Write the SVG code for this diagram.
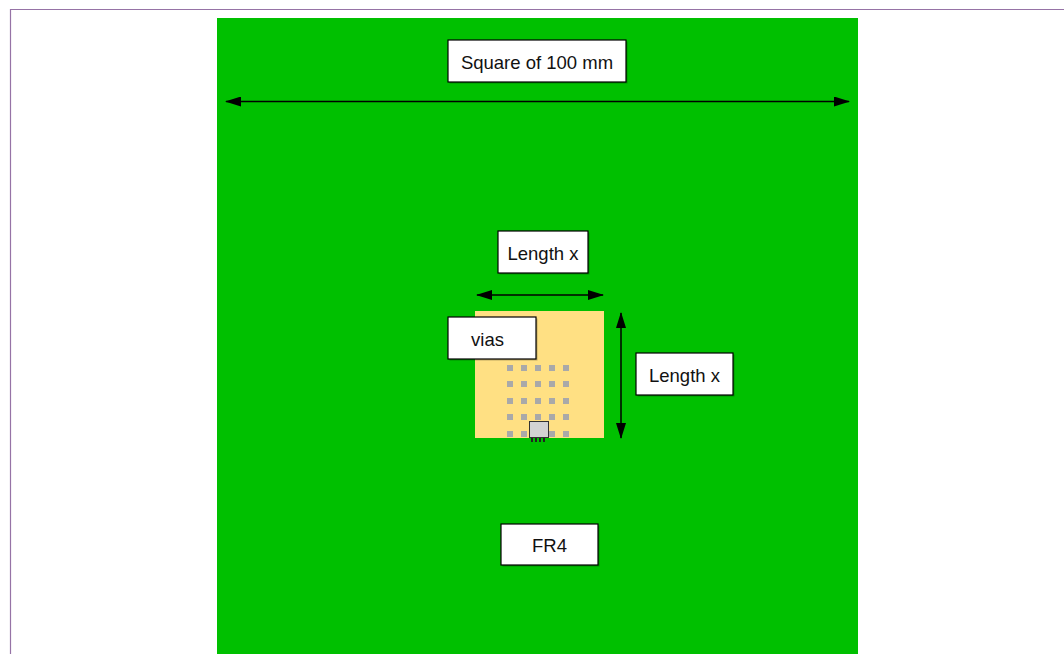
<svg xmlns="http://www.w3.org/2000/svg" width="1064" height="654" viewBox="0 0 1064 654">
<defs>
<style>
.lbl{fill:#ffffff;stroke:#000000;stroke-width:1.2}
.sh{fill:#000000;opacity:0.25}
.t{font-family:"Liberation Sans",Arial,sans-serif;font-size:18.5px;fill:#111111;text-anchor:middle;dominant-baseline:central}
.dim{stroke:#000000;stroke-width:1.5;fill:none;marker-start:url(#ah);marker-end:url(#ah)}
.via{fill:#a9a9a9}
</style>
<marker id="ah" viewBox="0 0 16 10" refX="15" refY="5" markerWidth="16" markerHeight="10" markerUnits="userSpaceOnUse" orient="auto-start-reverse">
<path d="M0,0 L16,5 L0,10 Z" fill="#000000"/>
</marker>
</defs>
<rect x="0" y="0" width="1064" height="654" fill="#ffffff"/>
<path d="M10.5,654 L10.5,9.5 L1064,9.5" fill="none" stroke="#9673a6" stroke-width="1.2"/>
<g id="board">
<rect x="217" y="18" width="641" height="640" fill="#00c000"/>
</g>
<g id="pad">
<rect x="475" y="311" width="129" height="127" fill="#ffe083"/>
</g>
<g id="via-array">
<rect class="via" x="507" y="365" width="6" height="6"/><rect class="via" x="521" y="365" width="6" height="6"/><rect class="via" x="535" y="365" width="6" height="6"/><rect class="via" x="549" y="365" width="6" height="6"/><rect class="via" x="563" y="365" width="6" height="6"/>
<rect class="via" x="507" y="381" width="6" height="6"/><rect class="via" x="521" y="381" width="6" height="6"/><rect class="via" x="535" y="381" width="6" height="6"/><rect class="via" x="549" y="381" width="6" height="6"/><rect class="via" x="563" y="381" width="6" height="6"/>
<rect class="via" x="507" y="398" width="6" height="6"/><rect class="via" x="521" y="398" width="6" height="6"/><rect class="via" x="535" y="398" width="6" height="6"/><rect class="via" x="549" y="398" width="6" height="6"/><rect class="via" x="563" y="398" width="6" height="6"/>
<rect class="via" x="507" y="414" width="6" height="6"/><rect class="via" x="521" y="414" width="6" height="6"/><rect class="via" x="535" y="414" width="6" height="6"/><rect class="via" x="549" y="414" width="6" height="6"/><rect class="via" x="563" y="414" width="6" height="6"/>
<rect class="via" x="507" y="431" width="6" height="6"/><rect class="via" x="521" y="431" width="6" height="6"/><rect class="via" x="535" y="431" width="6" height="6"/><rect class="via" x="549" y="431" width="6" height="6"/><rect class="via" x="563" y="431" width="6" height="6"/>
</g>
<g id="chip">
<rect x="531" y="438" width="2" height="4" fill="#222222"/><rect x="535" y="438" width="2" height="4" fill="#222222"/><rect x="539" y="438" width="2" height="4" fill="#222222"/><rect x="543" y="438" width="2" height="4" fill="#222222"/>
<rect x="529.5" y="421.5" width="19" height="16" fill="#d3d3d3" stroke="#333333" stroke-width="1"/>
</g>
<g id="connectors">
<line class="dim" x1="226" y1="101.5" x2="849" y2="101.5"/>
<line class="dim" x1="477" y1="295" x2="603" y2="295"/>
<line class="dim" x1="621" y1="313" x2="621" y2="438"/>
</g>
<g id="label-square">
<rect class="sh" x="449.5" y="41.5" width="178" height="42"/>
<rect class="lbl" x="448" y="40" width="178" height="42"/>
<text class="t" x="537" y="62">Square of 100 mm</text>
</g>
<g id="label-length-top">
<rect class="sh" x="499.5" y="232.5" width="90" height="42"/>
<rect class="lbl" x="498" y="231" width="90" height="42"/>
<text class="t" x="543" y="253">Length x</text>
</g>
<g id="label-vias">
<rect class="sh" x="449.5" y="318.5" width="88" height="42"/>
<rect class="lbl" x="448" y="317" width="88" height="42"/>
<text class="t" x="487.5" y="339">vias</text>
</g>
<g id="label-length-right">
<rect class="sh" x="637.5" y="354.5" width="97" height="42"/>
<rect class="lbl" x="636" y="353" width="97" height="42"/>
<text class="t" x="684.5" y="375">Length x</text>
</g>
<g id="label-fr4">
<rect class="sh" x="502.5" y="525.5" width="97" height="41"/>
<rect class="lbl" x="501" y="524" width="97" height="41"/>
<text class="t" x="549.5" y="545">FR4</text>
</g>
</svg>
